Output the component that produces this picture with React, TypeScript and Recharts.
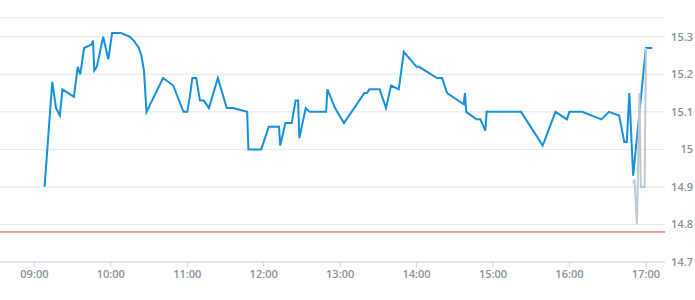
import { CartesianGrid, Line, LineChart, ReferenceLine, XAxis, YAxis } from 'recharts';

const priceTimes = [
  '09:08', '09:14', '09:17', '09:20', '09:22', '09:31', '09:34', '09:36', '09:39', '09:45',
  '09:46', '09:47', '09:49', '09:54', '09:58', '10:01', '10:08', '10:15', '10:18', '10:22',
  '10:24', '10:26', '10:28', '10:41', '10:49', '10:57', '11:00', '11:02', '11:04', '11:07',
  '11:10', '11:13', '11:17', '11:24', '11:31', '11:36', '11:47', '11:48', '11:58', '12:04',
  '12:12', '12:13', '12:17', '12:22', '12:25', '12:27', '12:28', '12:33', '12:36', '12:49',
  '12:50', '12:56', '13:03', '13:19', '13:21', '13:23', '13:31', '13:36', '13:40', '13:46',
  '13:50', '14:00', '14:02', '14:16', '14:20', '14:24', '14:37', '14:38', '14:39', '14:47',
  '14:50', '14:54', '14:55', '15:22', '15:39', '15:49', '15:58', '16:00', '16:10', '16:25',
  '16:31', '16:39', '16:43', '16:45', '16:47', '16:50', '17:00', '17:05',
];
const prices = [
  14.9, 15.18, 15.11, 15.09, 15.16, 15.14, 15.22, 15.2, 15.27, 15.28,
  15.29, 15.21, 15.22, 15.3, 15.24, 15.31, 15.31, 15.3, 15.29, 15.27,
  15.25, 15.21, 15.1, 15.19, 15.17, 15.1, 15.1, 15.14, 15.19, 15.19,
  15.13, 15.13, 15.11, 15.19, 15.11, 15.11, 15.1, 15.0, 15.0, 15.06,
  15.06, 15.01, 15.07, 15.07, 15.13, 15.13, 15.03, 15.11, 15.1, 15.1,
  15.16, 15.11, 15.07, 15.15, 15.15, 15.16, 15.16, 15.11, 15.17, 15.16,
  15.26, 15.22, 15.22, 15.19, 15.19, 15.15, 15.12, 15.15, 15.1, 15.08,
  15.08, 15.05, 15.1, 15.1, 15.01, 15.1, 15.08, 15.1, 15.1, 15.08,
  15.1, 15.09, 15.02, 15.02, 15.15, 14.93, 15.27, 15.27,
];

const auctionTimes = ['16:50', '16:51', '16:53', '16:55', '16:56', '16:59', '17:00'];
const auctionPrices = [14.91, 14.92, 14.8, 15.15, 14.9, 14.9, 15.27];

const hourTicks = ['09:00', '10:00', '11:00', '12:00', '13:00', '14:00', '15:00', '16:00', '17:00'];
const priceTicks = [14.7, 14.8, 14.9, 15, 15.1, 15.2, 15.3];
const previousClose = 14.78;

function toMinutes(hhmm: string) {
  const [h, m] = hhmm.split(':').map(Number);
  return h * 60 + m;
}

function formatMinutes(value: number) {
  const h = Math.floor(value / 60);
  const m = value % 60;
  return `${String(h).padStart(2, '0')}:${String(m).padStart(2, '0')}`;
}

const priceData = priceTimes.map((t, i) => ({ time: toMinutes(t), price: prices[i] }));
const auctionData = auctionTimes.map((t, i) => ({ time: toMinutes(t), price: auctionPrices[i] }));

const labelStyle = { fill: '#86929d', fontSize: 11, fontFamily: 'Open Sans', fontWeight: 600 };

// right-aligned labels against the chart's right edge
function PriceTick(props: any) {
  const { y, payload } = props;
  return (
    <text x={693} y={y} dy={4} textAnchor='end' {...labelStyle}>
      {payload.value}
    </text>
  );
}

export default function App() {
  return (
    <div style={{ position: 'absolute', top: 0, left: 0, width: 695, height: 300 }}>
      <LineChart width={695} height={300} margin={{ top: 18, right: 0, bottom: 0, left: 0 }}>
        <CartesianGrid vertical={false} stroke='#e6e6e6' />
        <XAxis
          type='number'
          dataKey='time'
          domain={[513, 1035]}
          ticks={hourTicks.map(toMinutes)}
          tickFormatter={formatMinutes}
          height={38}
          tickSize={5}
          tickMargin={3}
          stroke='#ccd6eb'
          tick={labelStyle}
          allowDuplicatedCategory={false}
        />
        <YAxis
          orientation='right'
          type='number'
          domain={[14.7, 15.35]}
          ticks={priceTicks}
          width={30}
          axisLine={false}
          tickLine={false}
          tick={<PriceTick />}
        />
        <ReferenceLine y={previousClose} stroke='#d6403c' strokeWidth={1} />
        <Line
          data={priceData}
          dataKey='price'
          stroke='#1590dc'
          strokeWidth={2}
          dot={false}
          isAnimationActive={false}
        />
        <Line
          data={auctionData}
          dataKey='price'
          stroke='#bcc8d2'
          strokeWidth={2}
          dot={false}
          isAnimationActive={false}
        />
      </LineChart>
    </div>
  );
}
